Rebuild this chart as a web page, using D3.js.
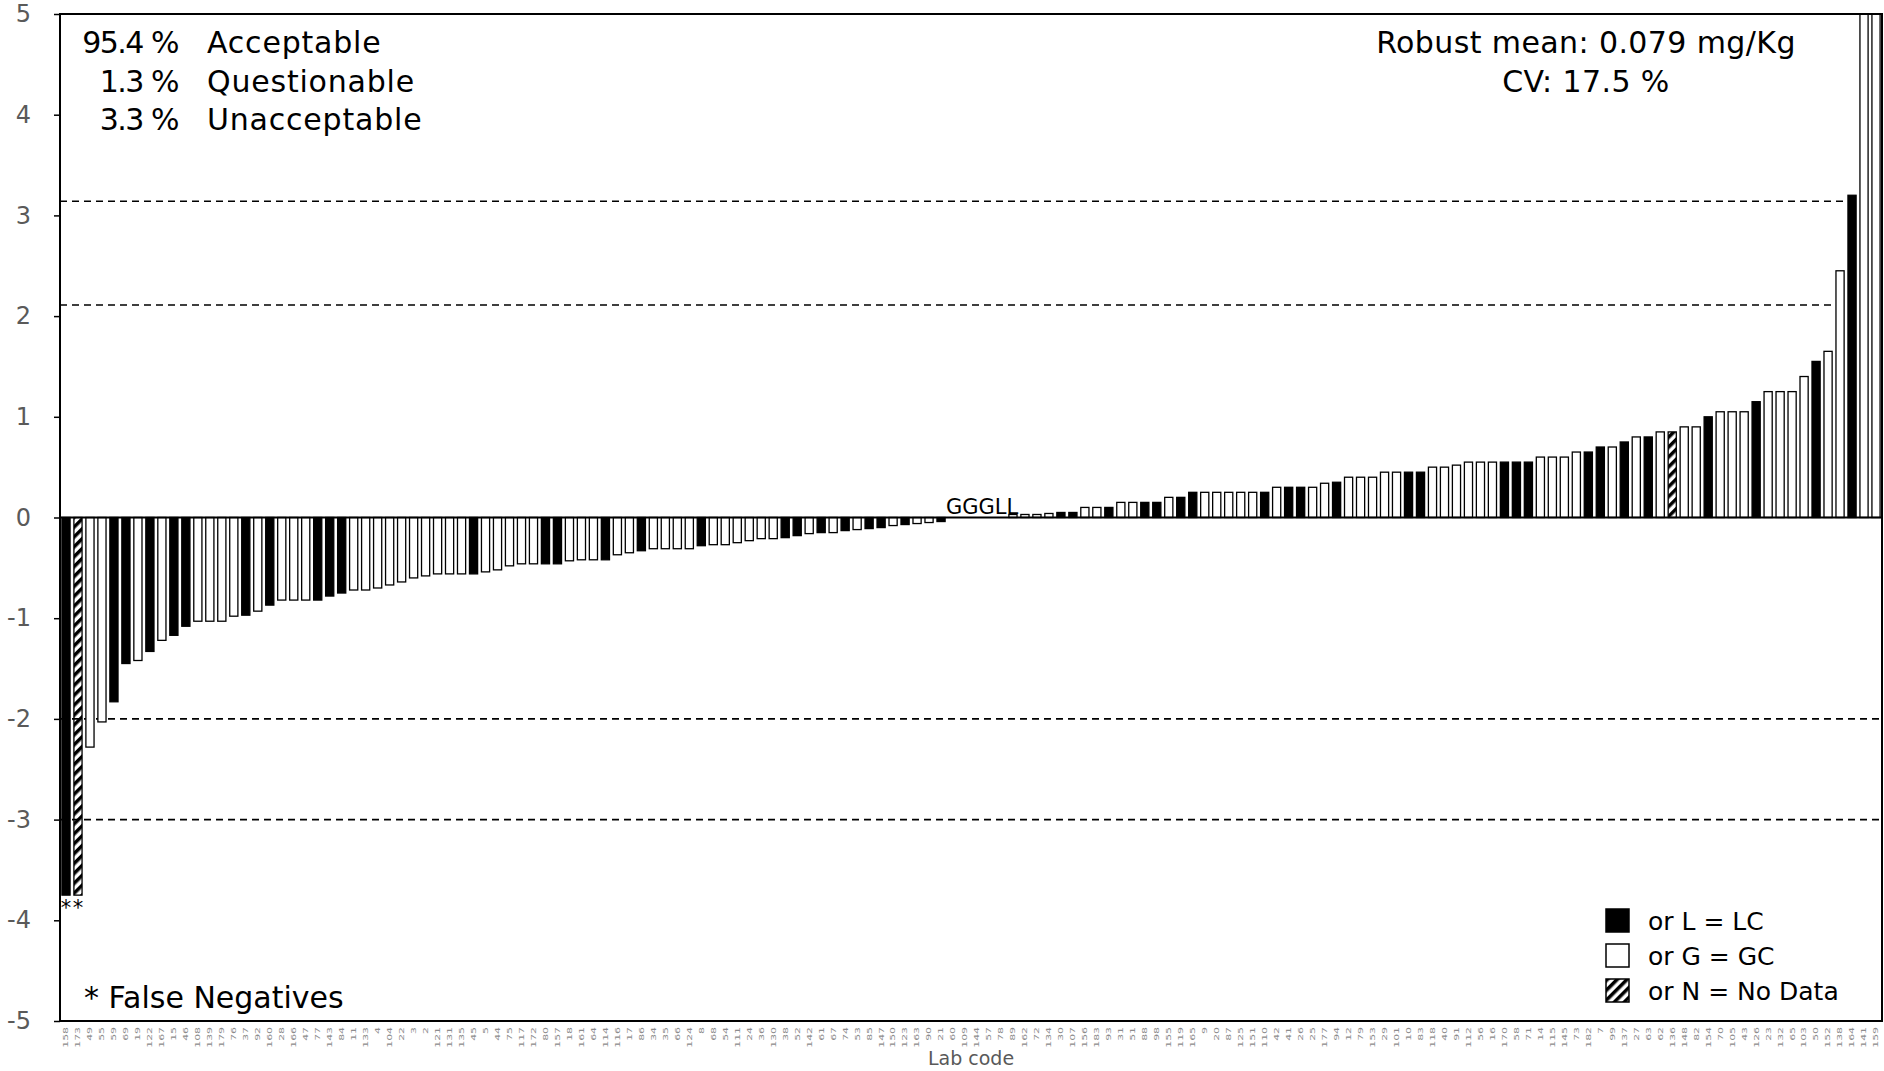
<!DOCTYPE html>
<html>
<head>
<meta charset="utf-8">
<script src="https://cdn.jsdelivr.net/npm/d3@7"></script>
<style>
    body { margin: 0; background: #fff; }
    #chart-area { width: 1884px; height: 1071px; }
    text { font-family: "DejaVu Sans", sans-serif; }
</style>
</head>
<body>
<div id="chart-area"></div>
<script>

// lab codes, in plotted order (sorted by z-score)
let labCodes = [158, 173, 49, 55, 59, 69, 19, 122, 167, 15, 46, 108, 139, 179, 76, 37, 92, 160, 28,
    166, 47, 77, 143, 84, 11, 133, 4, 104, 22, 3, 2, 121, 131, 135, 45, 5, 44, 75,
    117, 172, 80, 157, 18, 161, 64, 114, 116, 17, 86, 34, 35, 66, 124, 8, 68, 54, 111,
    24, 36, 130, 38, 52, 142, 61, 67, 74, 53, 85, 147, 150, 123, 163, 90, 21, 60, 109,
    144, 57, 78, 89, 162, 72, 134, 30, 107, 156, 183, 93, 31, 51, 88, 98, 155, 119, 165, 9,
    20, 87, 125, 151, 110, 42, 41, 26, 25, 177, 94, 12, 79, 153, 29, 101, 10, 83, 118,
    40, 91, 112, 56, 16, 170, 58, 71, 14, 115, 145, 73, 182, 7, 99, 137, 27, 63, 62,
    136, 148, 82, 154, 70, 105, 43, 126, 23, 132, 65, 103, 50, 152, 138, 164, 141, 159];

// z-scores
let zScores = [-3.75, -3.75, -2.28, -2.03, -1.83, -1.45, -1.42, -1.33, -1.22, -1.17, -1.08, -1.03, -1.03, -1.03, -0.98, -0.97, -0.93, -0.87, -0.82,
    -0.82, -0.82, -0.82, -0.78, -0.75, -0.72, -0.72, -0.70, -0.67, -0.64, -0.60, -0.58, -0.56, -0.56, -0.56, -0.56, -0.54, -0.52, -0.48,
    -0.46, -0.46, -0.46, -0.46, -0.43, -0.42, -0.42, -0.42, -0.37, -0.35, -0.33, -0.31, -0.31, -0.31, -0.31, -0.28, -0.27, -0.27, -0.25,
    -0.23, -0.21, -0.21, -0.20, -0.18, -0.16, -0.15, -0.15, -0.13, -0.12, -0.11, -0.10, -0.08, -0.07, -0.06, -0.05, -0.04, 0, 0,
    0, 0, 0, 0.03, 0.03, 0.03, 0.04, 0.05, 0.05, 0.10, 0.10, 0.10, 0.15, 0.15, 0.15, 0.15, 0.20, 0.20, 0.25, 0.25,
    0.25, 0.25, 0.25, 0.25, 0.25, 0.30, 0.30, 0.30, 0.30, 0.34, 0.35, 0.40, 0.40, 0.40, 0.45, 0.45, 0.45, 0.45, 0.50,
    0.50, 0.52, 0.55, 0.55, 0.55, 0.55, 0.55, 0.55, 0.60, 0.60, 0.60, 0.65, 0.65, 0.70, 0.70, 0.75, 0.80, 0.80, 0.85,
    0.85, 0.90, 0.90, 1.00, 1.05, 1.05, 1.05, 1.15, 1.25, 1.25, 1.25, 1.40, 1.55, 1.65, 2.45, 3.20, 6.0, 6.0];

// method: L = LC, G = GC, N = no data
let methods = ["L", "N", "G", "G", "L", "L", "G", "L", "G", "L", "L", "G", "G", "G", "G", "L", "G", "L", "G",
    "G", "G", "L", "L", "L", "G", "G", "G", "G", "G", "G", "G", "G", "G", "G", "L", "G", "G", "G",
    "G", "G", "L", "L", "G", "G", "G", "L", "G", "G", "L", "G", "G", "G", "G", "L", "G", "G", "G",
    "G", "G", "G", "L", "L", "G", "L", "G", "L", "G", "L", "L", "G", "L", "G", "G", "L", "G", "G",
    "G", "L", "L", "G", "G", "G", "G", "L", "L", "G", "G", "L", "G", "G", "L", "L", "G", "L", "L", "G",
    "G", "G", "G", "G", "L", "G", "L", "L", "G", "G", "L", "G", "G", "G", "G", "G", "L", "L", "G",
    "G", "G", "G", "G", "G", "L", "L", "L", "G", "G", "G", "G", "L", "L", "G", "L", "G", "L", "G",
    "N", "G", "G", "L", "G", "G", "G", "L", "G", "G", "G", "G", "L", "G", "G", "L", "G", "G"];

// labs flagged as false negatives
let falseNegatives = [158, 173];

// y axis ticks and limit lines
let yTicks = [-5, -4, -3, -2, -1, 0, 1, 2, 3, 4, 5];
let limitLines = [-3, -2, 2.11, 3.14];

// summary texts
let summaryPct = ["95.4 %", "1.3 %", "3.3 %"];
let summaryLabels = ["Acceptable", "Questionable", "Unacceptable"];
let statsLines = ["Robust mean: 0.079 mg/Kg", "CV: 17.5 %"];
let legendKeys = ["L", "G", "N"];
let legendLabels = ["or L = LC", "or G = GC", "or N = No Data"];


class ZScoreVis {

    constructor(parentElement) {
        this.parentElement = parentElement;
        this.displayData = [];
        this.initVis();
    }

    initVis() {
        let vis = this;

        vis.margin = {top: 14, right: 2, bottom: 50, left: 60};
        vis.width = 1884 - vis.margin.left - vis.margin.right;
        vis.height = 1071 - vis.margin.top - vis.margin.bottom;

        vis.root = d3.select("#" + vis.parentElement).append("svg")
            .attr("width", 1884)
            .attr("height", 1071);

        // hatch pattern for "no data" bars
        let defs = vis.root.append("defs");
        defs.append("pattern")
            .attr("id", "hatch")
            .attr("patternUnits", "userSpaceOnUse")
            .attr("width", 7)
            .attr("height", 7)
            .attr("patternTransform", "rotate(45)")
            .append("rect")
            .attr("width", 3.5)
            .attr("height", 7)
            .attr("fill", "#000");

        defs.append("clipPath")
            .attr("id", "plot-clip")
            .append("rect")
            .attr("width", vis.width)
            .attr("height", vis.height);

        vis.svg = vis.root.append("g")
            .attr("transform", "translate(" + vis.margin.left + "," + vis.margin.top + ")");

        // scales
        vis.x = d3.scaleBand().range([0, vis.width]).paddingInner(0.32).paddingOuter(0.16);
        vis.y = d3.scaleLinear().domain([-5, 5]).range([vis.height, 0]);

        vis.fill = d3.scaleOrdinal().domain(["L", "G", "N"]).range(["#000", "#fff", "url(#hatch)"]);

        vis.wrangleData();
    }

    wrangleData() {
        let vis = this;

        vis.displayData = labCodes.map((code, i) => ({
            code: String(code),
            z: zScores[i],
            method: methods[i]
        }));

        vis.updateVis();
    }

    updateVis() {
        let vis = this;

        vis.x.domain(vis.displayData.map(d => d.code));

        // y axis (plain hyphen for negatives, like the original)
        let yAxis = vis.svg.append("g")
            .attr("class", "y-axis")
            .call(d3.axisLeft(vis.y).tickValues(yTicks).tickSize(6).tickPadding(23).tickFormat(d => String(d)));
        yAxis.select(".domain").remove();
        yAxis.selectAll("line").attr("stroke", "#000").attr("stroke-width", 1.5);
        yAxis.selectAll("text")
            .attr("fill", "#5a5a5a")
            .style("font-size", "24px")
            .attr("text-anchor", "end");

        // x axis labels (lab codes)
        let xAxis = vis.svg.append("g")
            .attr("class", "x-axis")
            .attr("transform", "translate(0," + vis.height + ")")
            .call(d3.axisBottom(vis.x).tickSize(0));
        xAxis.select(".domain").remove();
        xAxis.selectAll("text")
            .attr("fill", "#8c8c8c")
            .style("font-size", "7.5px")
            .attr("text-anchor", "end")
            .attr("dy", "0.32em")
            .attr("transform", "translate(0,6) rotate(-90) scale(1.45,1)")
            .attr("x", 0)
            .attr("y", 0);

        vis.svg.append("text")
            .attr("x", vis.width / 2)
            .attr("y", vis.height + 44)
            .attr("text-anchor", "middle")
            .attr("fill", "#595959")
            .style("font-size", "19px")
            .text("Lab code");

        // limit lines
        vis.svg.selectAll(".limit")
            .data(limitLines)
            .enter().append("line")
            .attr("class", "limit")
            .attr("x1", 0)
            .attr("x2", vis.width)
            .attr("y1", d => vis.y(d))
            .attr("y2", d => vis.y(d))
            .attr("stroke", "#000")
            .attr("stroke-width", 1.6)
            .attr("stroke-dasharray", "7,5");

        // bars
        vis.svg.append("g")
            .attr("clip-path", "url(#plot-clip)")
            .selectAll(".bar")
            .data(vis.displayData.filter(d => d.z !== 0))
            .enter().append("rect")
            .attr("class", "bar")
            .attr("x", d => vis.x(d.code))
            .attr("width", vis.x.bandwidth())
            .attr("y", d => vis.y(Math.max(0, d.z)))
            .attr("height", d => Math.abs(vis.y(d.z) - vis.y(0)))
            .attr("fill", d => vis.fill(d.method))
            .attr("stroke", "#000")
            .attr("stroke-width", 1.3);

        // method letters for labs sitting exactly on zero, written as one string
        let zeroLabs = vis.displayData.filter(d => d.z === 0);
        vis.svg.append("text")
            .attr("class", "zero-label")
            .attr("x", vis.x(zeroLabs[0].code) - 3)
            .attr("y", vis.y(0) - 4)
            .style("font-size", "21px")
            .attr("fill", "#000")
            .text(zeroLabs.map(d => d.method).join(""));

        // zero line
        vis.svg.append("line")
            .attr("x1", 0)
            .attr("x2", vis.width)
            .attr("y1", vis.y(0))
            .attr("y2", vis.y(0))
            .attr("stroke", "#000")
            .attr("stroke-width", 2);

        // false negative stars
        vis.svg.selectAll(".star")
            .data(vis.displayData.filter(d => falseNegatives.includes(+d.code)))
            .enter().append("text")
            .attr("class", "star")
            .attr("x", d => vis.x(d.code) + vis.x.bandwidth() / 2)
            .attr("y", d => vis.y(d.z) + 20)
            .attr("text-anchor", "middle")
            .style("font-size", "21px")
            .text("*");

        // plot frame
        vis.svg.append("rect")
            .attr("width", vis.width)
            .attr("height", vis.height)
            .attr("fill", "none")
            .attr("stroke", "#000")
            .attr("stroke-width", 2);

        // summary block, top left
        let summary = vis.svg.append("g").attr("class", "summary")
            .style("font-size", "30px");
        summary.selectAll(".pct")
            .data(summaryPct)
            .enter().append("text")
            .attr("x", 118)
            .attr("y", (d, i) => 39 + i * 38.5)
            .attr("text-anchor", "end")
            .style("letter-spacing", "-1.5px")
            .text(d => d);
        summary.selectAll(".lbl")
            .data(summaryLabels)
            .enter().append("text")
            .attr("x", 147)
            .attr("y", (d, i) => 39 + i * 38.5)
            .style("letter-spacing", "0.8px")
            .text(d => d);

        // stats, top right
        vis.svg.append("g")
            .style("font-size", "30px")
            .style("letter-spacing", "0.4px")
            .selectAll(".stats")
            .data(statsLines)
            .enter().append("text")
            .attr("x", 1526)
            .attr("y", (d, i) => 39 + i * 38.5)
            .attr("text-anchor", "middle")
            .text(d => d);

        vis.svg.append("text")
            .attr("x", 24)
            .attr("y", 994)
            .style("font-size", "30px")
            .text("* False Negatives");

        // legend
        let legend = vis.svg.append("g")
            .attr("transform", "translate(1546, 895)");
        legendKeys.forEach((k, i) => {
            legend.append("rect")
                .attr("x", 0)
                .attr("y", i * 35)
                .attr("width", 23)
                .attr("height", 23)
                .attr("fill", vis.fill(k))
                .attr("stroke", "#000")
                .attr("stroke-width", 1.5);
            legend.append("text")
                .attr("x", 42)
                .attr("y", i * 35 + 21)
                .style("font-size", "25px")
                .text(legendLabels[i]);
        });
    }
}

let myZScoreVis = new ZScoreVis("chart-area");

</script>
</body>
</html>
